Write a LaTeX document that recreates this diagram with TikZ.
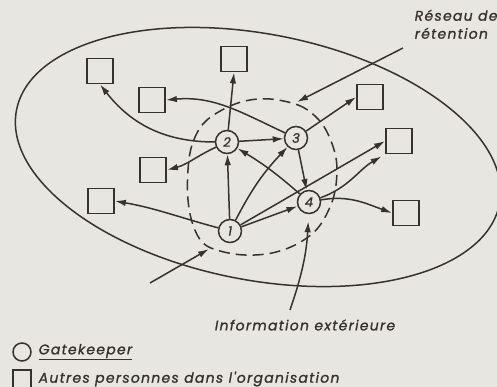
\documentclass[tikz,border=0pt]{standalone}
\usepackage{fontspec}
\setmainfont{Poppins}
\newfontfamily\labfont{Poppins}[LetterSpace=9,FakeBold=1.2]
\newfontfamily\numfont{Poppins}[FakeBold=1.2]
\usetikzlibrary{arrows.meta,calc}
\definecolor{ink}{HTML}{37322E}
\definecolor{paper}{HTML}{E8E6E1}
\begin{document}
\begin{tikzpicture}[x=1pt,y=1pt,color=ink,line width=1.5pt,
  gk/.style={circle,draw,fill=paper,minimum size=23pt,inner sep=0pt,font=\numfont\itshape\fontsize{13}{13}\selectfont},
  person/.style={rectangle,draw,line width=1.8pt,minimum width=26pt,minimum height=25pt,inner sep=0pt},
  arr/.style={-{Latex[length=11pt,width=6.5pt]}},
  lab/.style={font=\labfont\itshape\fontsize{14}{18}\selectfont,align=left,inner sep=0pt}]
\fill[paper] (0,0) rectangle (497,-387);
\clip (0,0) rectangle (497,-387);
\useasboundingbox (0,0) rectangle (497,-387);
% outer ellipse
\draw[rotate around={-11:(258,-157)}] (258,-157) ellipse [x radius=246, y radius=123];
% retention network (dashed)
\draw[dash pattern=on 11pt off 6pt] plot[smooth cycle,tension=0.6] coordinates {
 (270,-99) (298,-105) (315,-116) (327,-132) (336,-158) (336,-185) (330,-207) (317,-229)
 (297,-244) (272,-253) (245,-255) (220,-251) (203,-243) (193,-225) (188,-200) (188,-170)
 (192,-145) (203,-124) (222,-110) (245,-101)};
\coordinate (retA) at (297,-102);
\coordinate (retB) at (209,-249);
% gatekeepers
\node[gk] (g1) at (230,-231) {1};
\node[gk] (g2) at (227,-142) {2};
\node[gk] (g3) at (296,-138) {3};
\node[gk] (g4) at (309,-202) {4};
% other persons
\node[person] (bA) at (234,-59) {};
\node[person] (bB) at (152,-100) {};
\node[person] (bC) at (100,-71) {};
\node[person] (bD) at (153,-170) {};
\node[person] (bE) at (101,-201) {};
\node[person] (bF) at (370,-97) {};
\node[person] (bG) at (399,-141) {};
\node[person] (bH) at (406,-213) {};
% connectors
\draw[arr] (g2) -- (bA.south);
\draw[arr] (g3) to[out=155,in=5] (bB.east);
\draw[arr] (g2) to[out=180,in=-52] (bC.south);
\draw[arr] (g2) to[out=205,in=15] (bD.east);
\draw[arr] (g2) -- (g3);
\draw[arr] (g1) -- (g2);
\draw[arr] (g1) to[bend left=8] (g3);
\draw[arr] (g4) to[bend right=5] (g2);
\draw[arr] (g3) -- (g4);
\draw[arr] (g1) -- (g4);
\draw[arr] (g1) -- (bG.west);
\draw[arr] (g4) to[out=10,in=160] (bH.west);
\draw[arr,shorten >=4pt] (g4) to[out=20,in=210] (bG.south west);
\draw[arr] (g3) -- (bF.west);
\draw[arr] (g1) to[out=165,in=-10] (bE.east);
% external arrows
\coordinate (srcA) at (403,-48);
\coordinate (srcB) at (150,-283);
\coordinate (srcC) at (290,-310);
\draw[arr] (srcA) -- (retA);
\draw[arr] (srcB) -- (retB);
\draw[arr,shorten >=7pt] (srcC) to[bend right=8] (g4);
% labels
\node[lab,anchor=north west] (tret) at (414,-9) {Réseau de\\rétention};
\node[lab] (tinfo) at (305,-325) {Information extérieure};
% legend
\node[circle,draw,minimum size=18pt,inner sep=0pt] (lgc) at (22,-352) {};
\node[lab,anchor=west] (lgct) at (38,-352) {\underline{Gatekeeper}};
\node[rectangle,draw,minimum size=18pt,inner sep=0pt] (lgs) at (22,-379) {};
\node[lab,anchor=west] (lgst) at (38,-379) {Autres personnes dans l'organisation};
\end{tikzpicture}
\end{document}
